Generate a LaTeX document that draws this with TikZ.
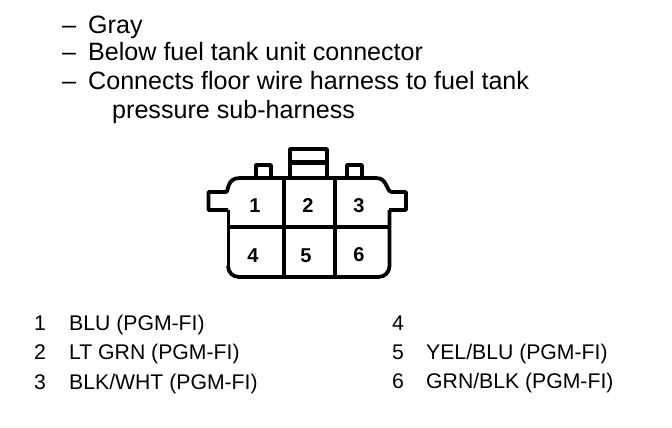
\documentclass[tikz,border=0pt]{standalone}
\usepackage{fontspec}
\setmainfont{Liberation Sans}
\tikzset{
  conn/.style={draw=black,line width=3.8pt,line join=round},
  sideedge/.style={draw=black,line width=3pt},
  head/.style={anchor=base west,inner sep=0pt,font=\fontsize{25.1}{29}\selectfont},
  wire/.style={anchor=base west,inner sep=0pt,font=\fontsize{21.2}{25}\selectfont},
  pin/.style={anchor=center,inner sep=0pt,font=\bfseries\fontsize{20}{24}\selectfont}
}
\begin{document}
\begin{tikzpicture}[x=1pt,y=-1pt]
\useasboundingbox (0,0) rectangle (672,428);
\fill[white] (0,0) rectangle (672,428);
% header text
\node[head] (d1) at (62,34) {–};
\node[head] (t1) at (88,34) {Gray};
\node[head] (d2) at (62,61) {–};
\node[head] (t2) at (88,61) {Below fuel tank unit connector};
\node[head] (d3) at (62,89.5) {–};
\node[head] (t3) at (88,89.5) {Connects floor wire harness to fuel tank};
\node[head] (t4) at (112,118) {pressure sub-harness};
% connector
\draw[conn] (256,178) -- (256,165) -- (271,165) -- (271,178);
\draw[conn] (347,178) -- (347,165) -- (362,165) -- (362,178);
\draw[conn] (290,178) -- (290,149) -- (327,149) -- (327,178);
\draw[conn,line width=5pt] (290,162.5) -- (327,162.5);
% body outline, open towards the side tabs
\draw[conn] (228,210) -- (208.5,210) -- (208.5,192) -- (226,192)
  .. controls (229,192) and (226,178) .. (240,178) -- (376,178)
  .. controls (388,178) and (386,192) .. (392,192)
  -- (406,192) -- (406,210) -- (389,210);
\draw[sideedge] (228,210) -- (228,266);
\draw[conn,rounded corners=11pt] (228,266) -- (228,277) -- (389.5,277) -- (389.5,210);
\draw[conn] (228,227) -- (389,227);
\draw[conn] (284,178) -- (284,277);
\draw[conn] (335,178) -- (335,277);
\node[pin] (p1) at (255,206) {1};
\node[pin] (p2) at (308,206) {2};
\node[pin] (p3) at (359,206) {3};
\node[pin] (p4) at (253,256) {4};
\node[pin] (p5) at (306,256) {5};
\node[pin] (p6) at (359,255) {6};
% wire table
\node[wire] (n1) at (34,330) {1};
\node[wire] (w1) at (69,330) {BLU (PGM-FI)};
\node[wire] (n2) at (34,359) {2};
\node[wire] (w2) at (69,359) {LT GRN (PGM-FI)};
\node[wire] (n3) at (34,389) {3};
\node[wire] (w3) at (69,389) {BLK/WHT (PGM-FI)};
\node[wire] (n4) at (392,330) {4};
\node[wire] (n5) at (392,359) {5};
\node[wire] (w5) at (426,359) {YEL/BLU (PGM-FI)};
\node[wire] (n6) at (392,388) {6};
\node[wire] (w6) at (426,388) {GRN/BLK (PGM-FI)};
\end{tikzpicture}
\end{document}
